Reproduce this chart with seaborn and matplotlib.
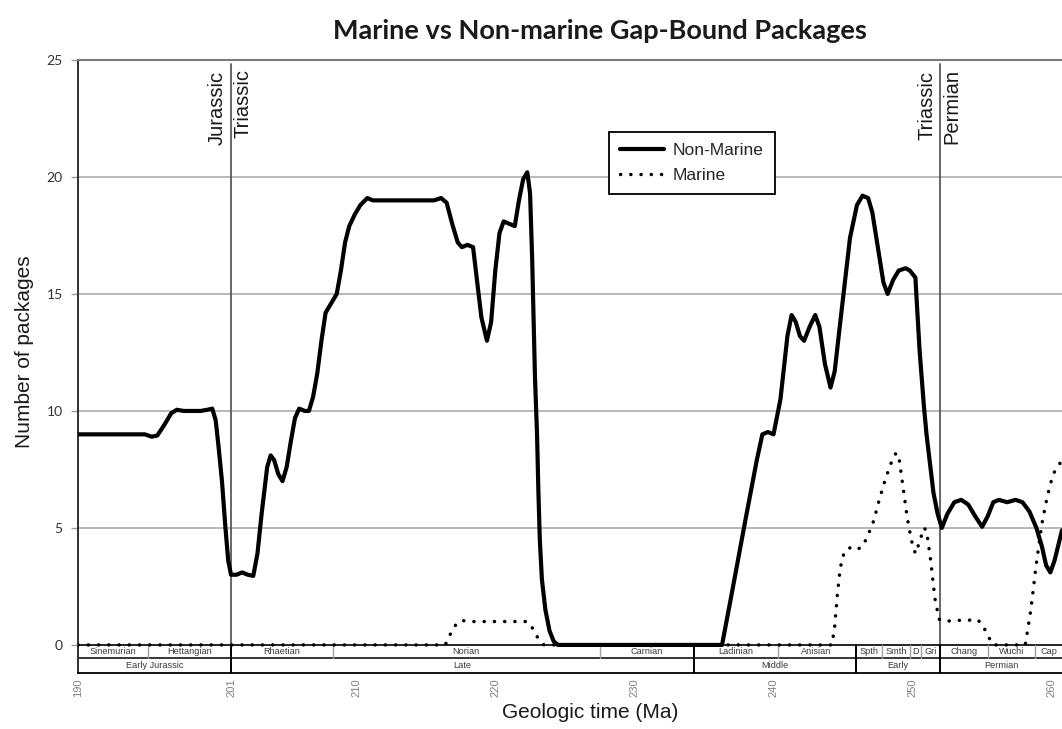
import matplotlib
matplotlib.use("Agg")
import matplotlib.pyplot as plt
import pandas as pd
import seaborn as sns

# ---- data: number of gap-bound packages through geologic time (Ma) ----
nonmarine_age = [190.0, 194.8, 195.3, 195.7, 196.2, 196.7, 197.1, 197.6, 198.8, 199.3,
                 199.65, 199.9, 200.1, 200.35, 200.6, 200.8, 201.0, 201.4, 201.8, 202.2,
                 202.6, 202.9, 203.2, 203.6, 203.85, 204.1, 204.4, 204.7, 205.0, 205.3,
                 205.6, 205.9, 206.3, 206.6, 206.9, 207.2, 207.5, 207.8, 208.2, 208.6,
                 208.9, 209.2, 209.5, 209.9, 210.3, 210.8, 211.2, 215.6, 216.1, 216.5,
                 216.9, 217.3, 217.6, 218.0, 218.4, 218.7, 219.0, 219.4, 219.7, 220.0,
                 220.3, 220.6, 221.0, 221.4, 221.7, 222.0, 222.3, 222.5, 222.65, 222.85,
                 223.0, 223.1, 223.2, 223.35, 223.6, 223.9, 224.2, 224.5, 236.3, 237.0,
                 238.0, 238.8, 239.2, 239.6, 240.0, 240.5, 241.0, 241.3, 241.6, 241.9,
                 242.2, 242.6, 243.0, 243.3, 243.7, 244.1, 244.4, 244.8, 245.5, 246.0,
                 246.4, 246.8, 247.1, 247.5, 247.9, 248.2, 248.6, 249.0, 249.5, 249.8,
                 250.2, 250.5, 250.8, 251.0, 251.3, 251.5, 251.8, 252.1, 252.5, 253.0,
                 253.5, 254.0, 254.5, 255.0, 255.4, 255.8, 256.2, 256.8, 257.4, 257.9,
                 258.4, 258.9, 259.3, 259.6, 259.9, 260.2, 260.74]
nonmarine_count = [9.0, 9.0, 8.9, 8.95, 9.4, 9.9, 10.05, 10.0, 10.0, 10.05,
                   10.1, 9.6, 8.5, 7.0, 5.0, 3.6, 3.0, 3.0, 3.1, 3.0,
                   2.95, 3.9, 5.6, 7.6, 8.1, 7.9, 7.3, 7.0, 7.6, 8.7,
                   9.7, 10.1, 10.0, 10.0, 10.6, 11.6, 13.0, 14.2, 14.6, 15.0,
                   16.0, 17.2, 17.9, 18.4, 18.8, 19.1, 19.0, 19.0, 19.1, 18.9,
                   18.0, 17.2, 17.0, 17.1, 17.0, 15.5, 14.0, 13.0, 13.8, 16.0,
                   17.6, 18.1, 18.0, 17.9, 19.0, 19.9, 20.2, 19.3, 16.5, 11.5,
                   9.0, 6.5, 4.5, 2.8, 1.5, 0.6, 0.15, 0.0, 0.0, 2.2,
                   5.4, 7.9, 9.0, 9.1, 9.0, 10.5, 13.2, 14.1, 13.8, 13.2,
                   13.0, 13.6, 14.1, 13.6, 12.0, 11.0, 11.7, 13.8, 17.4, 18.8,
                   19.2, 19.1, 18.5, 17.0, 15.5, 15.0, 15.6, 16.0, 16.1, 16.0,
                   15.7, 12.6, 10.3, 9.0, 7.5, 6.5, 5.6, 5.0, 5.6, 6.1,
                   6.2, 6.0, 5.5, 5.05, 5.5, 6.1, 6.2, 6.1, 6.2, 6.1,
                   5.7, 5.0, 4.2, 3.4, 3.1, 3.6, 4.9]

marine_age = [190.0, 216.4, 216.8, 217.2, 217.6, 218.0, 222.3, 222.7, 223.1, 223.5,
              244.2, 244.4, 244.6, 244.8, 245.1, 245.5, 245.9, 246.4, 246.8, 247.2,
              247.6, 248.0, 248.4, 248.8, 249.0, 249.3, 249.6, 249.9, 250.2, 250.5,
              250.8, 251.0, 251.3, 251.6, 251.9, 252.3, 253.0, 254.0, 254.6, 255.0,
              255.4, 255.8, 258.1, 258.5, 258.9, 259.3, 259.7, 260.1, 260.74]
marine_count = [0.0, 0.0, 0.5, 0.9, 1.05, 1.0, 1.0, 0.7, 0.25, 0.0,
                0.0, 0.8, 2.2, 3.3, 4.0, 4.15, 4.05, 4.2, 4.7, 5.3,
                6.2, 7.0, 7.7, 8.2, 8.1, 6.8, 5.5, 4.5, 3.9, 4.4,
                5.0, 4.9, 3.6, 2.0, 1.1, 1.0, 1.05, 1.05, 1.1, 0.9,
                0.4, 0.0, 0.0, 1.5, 3.5, 5.2, 6.4, 7.3, 7.9]

# ---- chronostratigraphic scale drawn beneath the curves ----
stage_names = ["Sinemurian", "Hettangian", "Rhaetian", "Norian", "Carnian", "Ladinian",
               "Anisian", "Spth", "Smth", "D", "Gri", "Chang", "Wuchi", "Cap"]
stage_bounds = [190.0, 195.0, 201.0, 208.3, 227.5, 234.3, 240.3, 245.9, 247.8, 249.8,
                250.6, 252.0, 255.4, 258.8, 260.74]
epoch_names = ["Early Jurassic", "Late", "Middle", "Early", "Permian"]
epoch_bounds = [190.0, 201.0, 234.3, 245.9, 252.0, 260.74]
period_lines = [201.0, 252.0]
period_labels = [("Jurassic", "Triassic"), ("Triassic", "Permian")]

x_ticks = [190, 201, 210, 220, 230, 240, 250, 260]
y_ticks = [0, 5, 10, 15, 20, 25]

X_MIN, X_MAX = 190.0, 260.74
Y_MIN, Y_MAX = -1.2, 25.0
ROW_SPLIT = -0.56

sns.set_theme(style="white")
plt.rcParams["font.family"] = ["Liberation Sans", "DejaVu Sans"]

W, H = 1062, 729
fig = plt.figure(figsize=(W / 100, H / 100), dpi=100)
ax = fig.add_axes([78 / W, 1 - 673 / H, (W - 78) / W, (673 - 60) / H])

nm = pd.DataFrame({"age": nonmarine_age, "count": nonmarine_count})
mr = pd.DataFrame({"age": marine_age, "count": marine_count})

ax.set_xlim(X_MIN, X_MAX)
ax.set_ylim(Y_MIN, Y_MAX)

# horizontal grid
for y in y_ticks[1:-1]:
    ax.axhline(y, color="#b9b9b9", lw=1.4, zorder=0)

# period boundaries through the plot area
for xb in period_lines:
    ax.plot([xb, xb], [0, 24.85], color="#5a5a5a", lw=1.3, zorder=1)

sns.lineplot(data=nm, x="age", y="count", ax=ax, color="black", lw=3.0,
             sort=False, estimator=None, label="Non-Marine", zorder=4,
             solid_joinstyle="round", solid_capstyle="round")
sns.lineplot(data=mr, x="age", y="count", ax=ax, color="black", lw=2.5,
             sort=False, estimator=None, label="Marine", zorder=3,
             linestyle=(0, (0.05, 2.9)), dash_capstyle="round")

# stage / epoch table
ax.axhline(0, color="black", lw=1.2, zorder=2)
ax.axhline(ROW_SPLIT, color="black", lw=1.1, zorder=2)
epoch_set = set(epoch_bounds)
for xb in stage_bounds[1:-1]:
    if xb in epoch_set:
        continue
    ax.plot([xb, xb], [ROW_SPLIT, 0], color="#a0a0a0", lw=1.0, zorder=2)
for xb in epoch_bounds[1:-1]:
    ax.plot([xb, xb], [Y_MIN, 0], color="black", lw=1.4, zorder=2)
for name, a, b in zip(stage_names, stage_bounds[:-1], stage_bounds[1:]):
    ax.text((a + b) / 2, ROW_SPLIT / 2, name, ha="center", va="center",
            fontsize=6.6, color="#3a3a3a")
for name, a, b in zip(epoch_names, epoch_bounds[:-1], epoch_bounds[1:]):
    ax.text((a + b) / 2, (ROW_SPLIT + Y_MIN) / 2, name, ha="center", va="center",
            fontsize=6.6, color="#3a3a3a")

# period names either side of each boundary
for xb, (younger, older) in zip(period_lines, period_labels):
    ax.text(xb - 0.3, 24.55, younger, rotation=90, ha="right", va="top",
            fontsize=14.5, color="#1a1a1a")
    ax.text(xb + 0.15, 24.6, older, rotation=90, ha="left", va="top",
            fontsize=14.5, color="#1a1a1a")

# axes styling
ax.spines["right"].set_visible(False)
ax.spines["top"].set_color("#7a7a7a")
ax.spines["top"].set_linewidth(1.5)
ax.spines["left"].set_color("#303030")
ax.spines["left"].set_linewidth(1.4)
ax.spines["bottom"].set_color("black")
ax.spines["bottom"].set_linewidth(1.3)

ax.set_yticks(y_ticks)
ax.set_yticklabels([str(v) for v in y_ticks], fontsize=10, color="#333333",
                   family=["Lato", "DejaVu Sans"])
ax.tick_params(axis="y", left=True, length=5, width=1, color="#9a9a9a", pad=6)
ax.set_xticks(x_ticks)
ax.set_xticklabels([str(v) for v in x_ticks], rotation=90, fontsize=8.0, color="#808080")
ax.tick_params(axis="x", bottom=False, length=0, pad=4)
ax.set_xlabel("")
ax.set_ylabel("")

leg = ax.legend(loc="upper left", bbox_to_anchor=(609 / W, 1 - 132 / H),
                bbox_transform=fig.transFigure, borderaxespad=0, frameon=True,
                fancybox=False, edgecolor="black", fontsize=12.5, handlelength=2.5,
                handletextpad=0.5, labelspacing=0.55, borderpad=0.65)
leg.get_frame().set_linewidth(1.3)
leg.get_frame().set_alpha(1)

fig.text(600 / W, 1 - 31 / H, "Marine vs Non-marine Gap-Bound Packages",
         ha="center", va="center", fontsize=19.5, fontweight="bold",
         family=["Lato", "DejaVu Sans"], color="#1a1a1a")
fig.text(25 / W, 1 - 352 / H, "Number of packages", rotation=90,
         ha="center", va="center", fontsize=15, color="#1a1a1a")
fig.text(590 / W, 1 - 712 / H, "Geologic time (Ma)",
         ha="center", va="center", fontsize=15, color="#1a1a1a")

fig.savefig("out.png", dpi=100)
